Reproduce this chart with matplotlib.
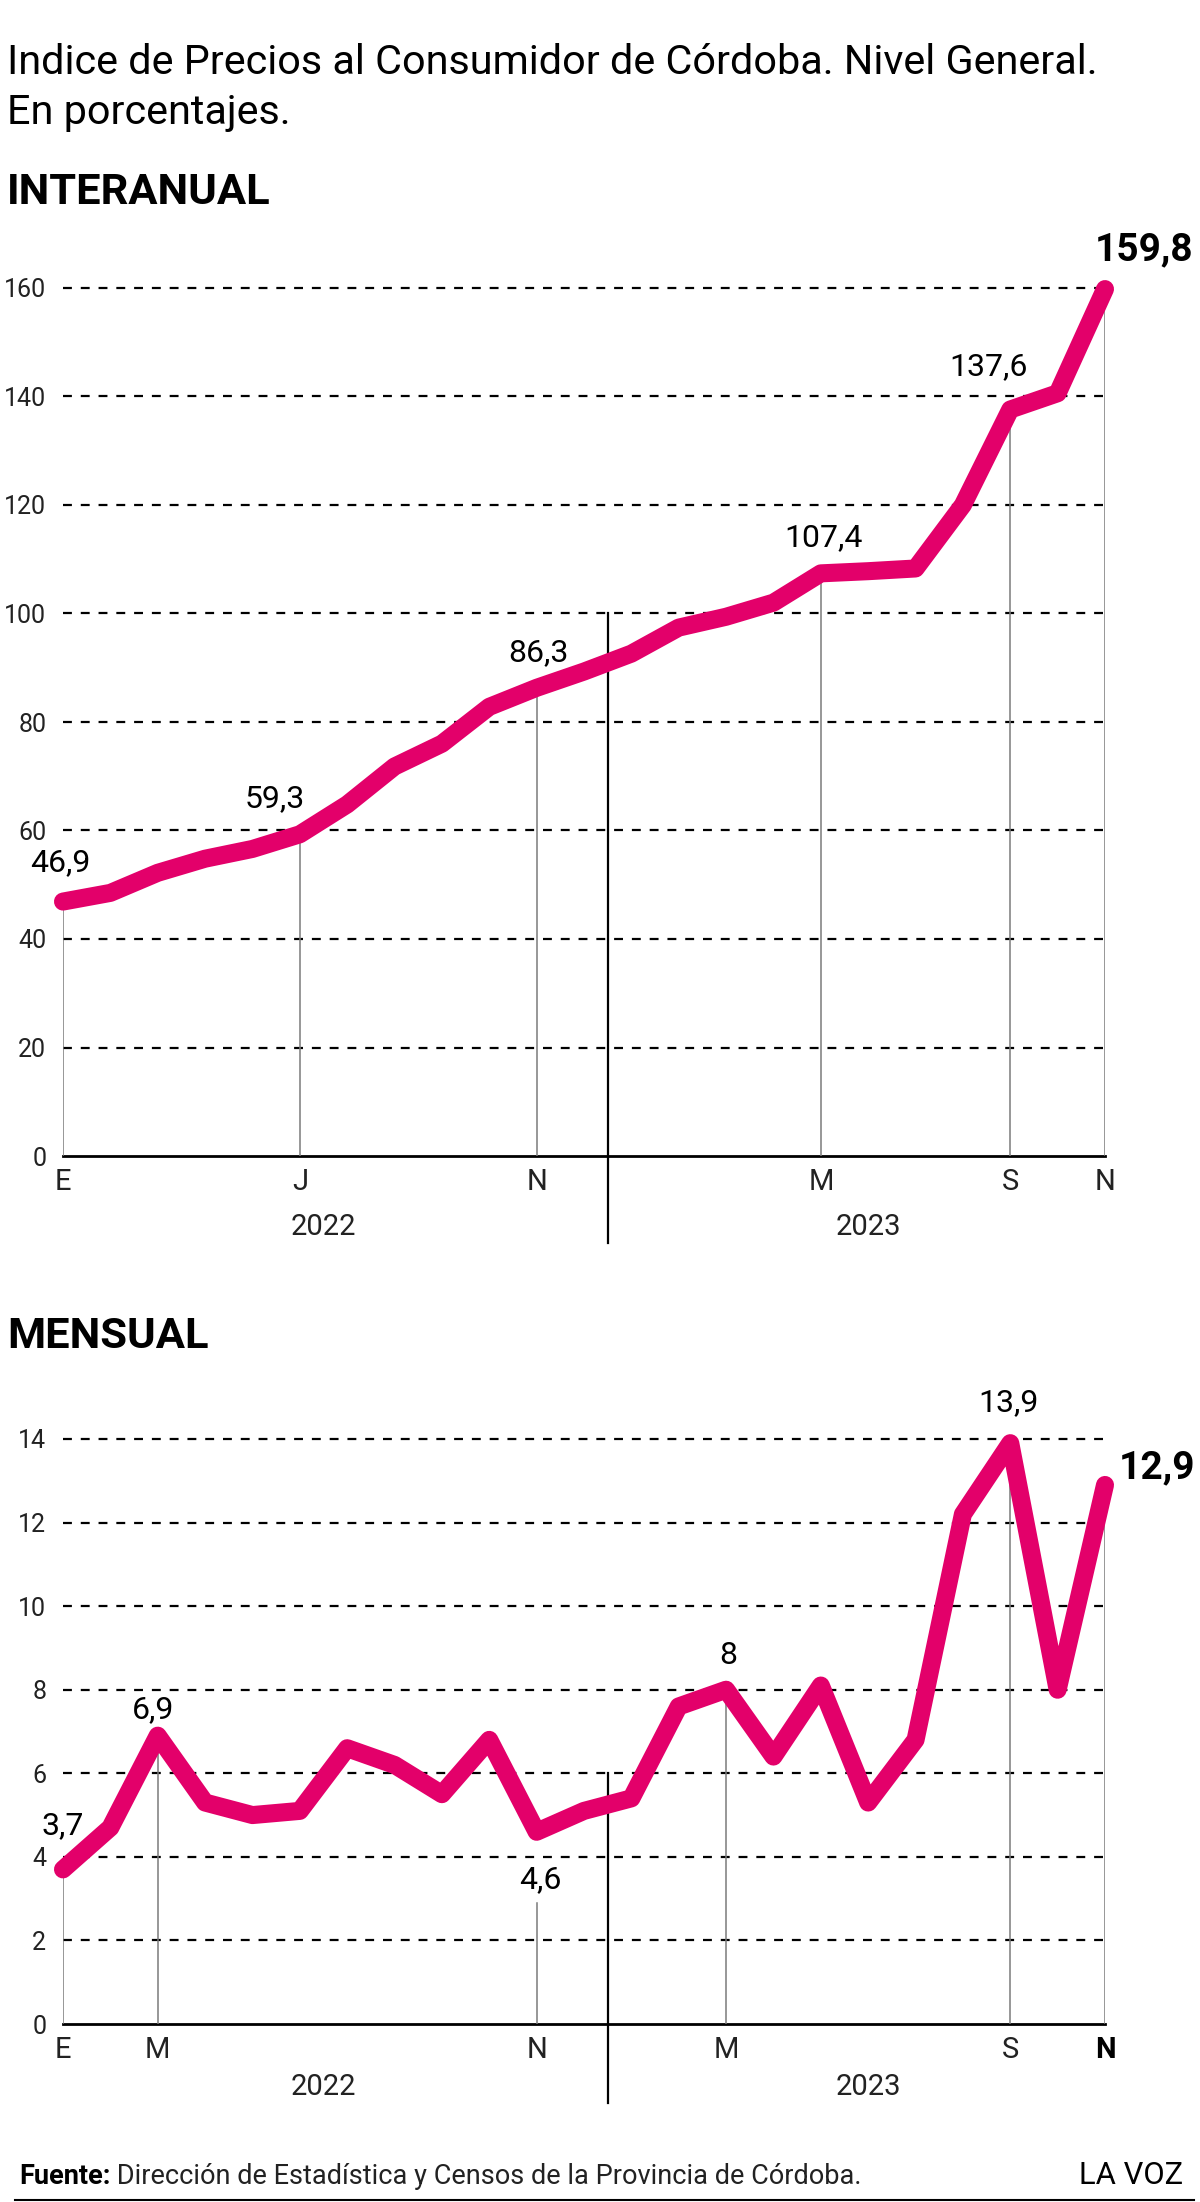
import numpy as np
import matplotlib
matplotlib.use('Agg')
import matplotlib.pyplot as plt
from matplotlib import font_manager
from matplotlib.text import Annotation

# ── font: narrow sans if installed, else Roboto ──────────────────────────────
_names = {f.name for f in font_manager.fontManager.ttflist}
FONT = 'Liberation Sans Narrow' if 'Liberation Sans Narrow' in _names else 'Roboto'
plt.rcParams['font.family'] = [FONT, 'DejaVu Sans']

# ── data ─────────────────────────────────────────────────────────────────────
months = np.arange(23)  # Jan 2022 .. Nov 2023
interanual = [46.9, 48.5, 52.2, 54.8, 56.6, 59.3, 64.8, 71.8, 76.0, 82.8, 86.3,
              89.3, 92.6, 97.4, 99.4, 102.0, 107.4, 107.8, 108.3, 120.0, 137.6,
              140.6, 159.8]
mensual = [3.7, 4.7, 6.9, 5.3, 5.0, 5.1, 6.6, 6.2, 5.5, 6.8, 4.6,
           5.1, 5.4, 7.6, 8.0, 6.4, 8.1, 5.3, 6.8, 12.2, 13.9,
           8.0, 12.9]

top_ticks = [0, 5, 10, 16, 20, 22]
top_ticklabels = ['E', 'J', 'N', 'M', 'S', 'N']
top_yticks = [0, 20, 40, 60, 80, 100, 120, 140, 160]
top_marks = [0, 5, 10, 16, 20, 22]
top_labels = {0: '46,9', 5: '59,3', 10: '86,3', 16: '107,4', 20: '137,6', 22: '159,8'}

bot_ticks = [0, 2, 10, 14, 20, 22]
bot_ticklabels = ['E', 'M', 'N', 'M', 'S', 'N']
bot_yticks = [0, 2, 4, 6, 8, 10, 12, 14]
bot_marks = [0, 2, 14, 20, 22]
bot_labels = {0: '3,7', 2: '6,9', 10: '4,6', 14: '8', 20: '13,9', 22: '12,9'}

years = ['2022', '2023']
year_pos = [5.5, 17]
divider_x = 11.5

MAGENTA = '#E3006A'
W, H = 1200, 2202
LABEL_FS = 23
BIG_FS = 28

fig = plt.figure(figsize=(W / 100, H / 100), dpi=100)
renderer = fig.canvas.get_renderer()

def fit_width(texts, target_px):
    # scale font sizes so the texts together span target_px
    w = sum(t.get_window_extent(renderer).width for t in texts)
    for t in texts:
        t.set_fontsize(t.get_fontsize() * target_px / w)

def px_axes(x0, x1, y_top, y_bot):
    # axes placed in pixel coordinates (from top-left)
    return fig.add_axes([x0 / W, 1 - y_bot / H, (x1 - x0) / W, (y_bot - y_top) / H])

def style_axes(ax, ymax, yticks, xticks, xlabels, bold_last=False):
    ax.set_xlim(0, 22)
    ax.set_ylim(0, ymax)
    for s in ax.spines.values():
        s.set_visible(False)
    ax.set_yticks(yticks)
    ax.set_yticklabels([str(v) for v in yticks])
    ax.set_xticks(xticks)
    ax.set_xticklabels(xlabels)
    ax.tick_params(length=0, colors='#222222')
    ax.tick_params(axis='y', pad=12, labelsize=18)
    ax.tick_params(axis='x', pad=9, labelsize=21)
    if bold_last:
        ax.get_xticklabels()[-1].set_fontweight('bold')
        ax.get_xticklabels()[-1].set_color('black')
    for v in yticks[1:]:
        ax.plot([0, 22], [v, v], color='black', lw=1.6, ls=(0, (4, 4)),
                clip_on=False, zorder=1)
    ax.plot([0, 22], [0, 0], color='black', lw=2.0, clip_on=False, zorder=2)

# ── headings ─────────────────────────────────────────────────────────────────
t_title = fig.text(7 / W, 1 - 63 / H,
                   'Indice de Precios al Consumidor de Córdoba. Nivel General.',
                   fontsize=30, va='center', ha='left')
fit_width([t_title], 1089)
fig.text(7 / W, 1 - 112 / H, 'En porcentajes.', fontsize=t_title.get_fontsize(),
         va='center', ha='left')
t_int = fig.text(7 / W, 1 - 193 / H, 'INTERANUAL', fontsize=31, fontweight='bold',
                 va='center', ha='left')
fit_width([t_int], 264)
t_men = fig.text(7 / W, 1 - 1336 / H, 'MENSUAL', fontsize=31, fontweight='bold',
                 va='center', ha='left')
t_men.set_fontsize(t_int.get_fontsize())

# ── interanual ───────────────────────────────────────────────────────────────
ax1 = px_axes(63, 1105, 288, 1156)
style_axes(ax1, 160, top_yticks, top_ticks, top_ticklabels)
for i in top_marks:
    ax1.plot([i, i], [0, interanual[i]], color='#7a7a7a', lw=1.1, zorder=2)
ax1.plot([divider_x, divider_x], [100, -16], color='black', lw=1.6,
         clip_on=False, zorder=2)
ax1.plot(months, interanual, color=MAGENTA, lw=13, solid_capstyle='round',
         solid_joinstyle='round', clip_on=False, zorder=3)
top_off = {0: (-0.05, 7.2), 5: (-0.52, 6.6), 10: (0.03, 6.5), 16: (0.05, 6.5),
           20: (-0.46, 7.9), 22: (0.82, 7.2)}
for i, s in top_labels.items():
    dx, dy = top_off[i]
    ax1.text(i + dx, interanual[i] + dy, s, fontsize=BIG_FS if i == 22 else LABEL_FS,
             fontweight='bold' if i == 22 else 'normal',
             ha='center', va='center', clip_on=False, zorder=4)
for yr, xp in zip(years, year_pos):
    ax1.text(xp, -13.1, yr, fontsize=21, ha='center', va='center', color='#222222')

# ── mensual ──────────────────────────────────────────────────────────────────
ax2 = px_axes(63, 1105, 1439, 2024)
style_axes(ax2, 14, bot_yticks, bot_ticks, bot_ticklabels, bold_last=True)
for i in bot_marks:
    ax2.plot([i, i], [0, mensual[i]], color='#7a7a7a', lw=1.1, zorder=2)
ax2.plot([10, 10], [0, 2.9], color='#7a7a7a', lw=1.1, zorder=2)
ax2.plot([divider_x, divider_x], [6, -1.9], color='black', lw=1.6,
         clip_on=False, zorder=2)
ax2.plot(months, mensual, color=MAGENTA, lw=13, solid_capstyle='round',
         solid_joinstyle='round', clip_on=False, zorder=3)
bot_off = {0: (0.0, 1.05), 2: (-0.1, 0.63), 10: (0.07, -1.14), 14: (0.05, 0.81),
           20: (-0.04, 0.97), 22: (1.1, 0.41)}
for i, s in bot_labels.items():
    dx, dy = bot_off[i]
    ax2.text(i + dx, mensual[i] + dy, s, fontsize=BIG_FS if i == 22 else LABEL_FS,
             fontweight='bold' if i == 22 else 'normal',
             ha='center', va='center', clip_on=False, zorder=4)
for yr, xp in zip(years, year_pos):
    ax2.text(xp, -1.5, yr, fontsize=21, ha='center', va='center', color='#222222')

# ── footer ───────────────────────────────────────────────────────────────────
t1 = fig.text(19 / W, 1 - 2190 / H, 'Fuente:', fontsize=20, fontweight='bold',
              ha='left', va='bottom')
t2 = Annotation(' Dirección de Estadística y Censos de la Provincia de Córdoba.',
                xy=(1, 0), xycoords=t1, fontsize=20, ha='left', va='bottom',
                color='#222222')
fig.add_artist(t2)
fit_width([t1, t2], 839)
t3 = fig.text(1183 / W, 1 - 2190 / H, 'LA VOZ', fontsize=22, ha='right', va='bottom')
fit_width([t3], 104)
fig.add_artist(plt.Line2D([15 / W, 1194 / W], [1 - 2200 / H, 1 - 2200 / H],
                          color='black', lw=1.5))

fig.savefig('out.png', dpi=100, facecolor='white')
